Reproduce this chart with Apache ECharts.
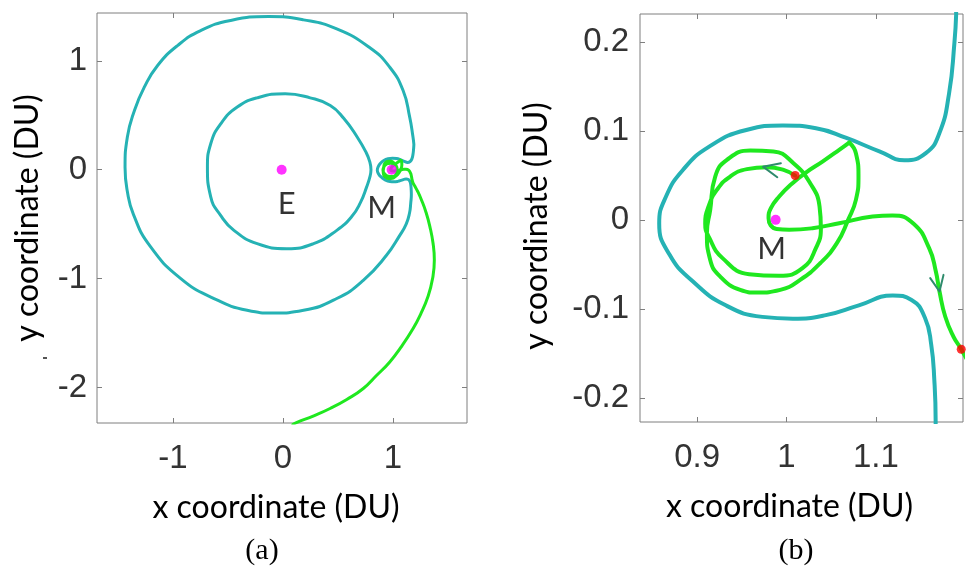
<!DOCTYPE html>
<html>
<head>
<meta charset="utf-8">
<script src="https://cdn.jsdelivr.net/npm/echarts@6/dist/echarts.min.js"></script>
<style>
  html, body { margin: 0; padding: 0; background: #ffffff; }
  #chart { width: 967px; height: 567px; }
</style>
</head>
<body>
<div id="chart"></div>
<script>
// ---- tick values ----
const xTicksA = [-1, 0, 1];
const yTicksA = [-2, -1, 0, 1];
const xTicksB = [0.9, 1, 1.1];
const yTicksB = [-0.2, -0.1, 0, 0.1, 0.2];

// ---- primaries (rotating frame, DU) ----
const bodyNames = ['E', 'M'];
const bodyX = [-0.01215, 0.98785];
const bodyY = [0, 0];

// ---- teal trajectory: arc wrapping the Moon (upper right -> over M -> lower right) ----
const tealMoonArc = [
  [1.190, 0.232], [1.188, 0.199], [1.182, 0.142], [1.171, 0.097], [1.156, 0.075],
  [1.132, 0.067], [1.104, 0.077], [1.067, 0.092], [1.033, 0.103], [0.996, 0.106],
  [0.955, 0.101], [0.913, 0.082], [0.884, 0.056], [0.865, 0.026], [0.8575, -0.004],
  [0.869, -0.039], [0.895, -0.069], [0.932, -0.096], [0.973, -0.109], [1.007, -0.111],
  [1.044, -0.107], [1.081, -0.096], [1.119, -0.085], [1.140, -0.090], [1.155, -0.110],
  [1.162, -0.140], [1.1655, -0.180], [1.167, -0.227]
];
// ---- teal trajectory: large arc around the Earth back to the Moon side ----
const tealEarthArc = [
  [1.167, -0.227], [1.162, -0.300], [1.150, -0.400], [1.120, -0.500], [1.062, -0.603],
  [0.941, -0.786], [0.730, -1.016], [0.489, -1.183], [0.187, -1.291], [-0.084, -1.316],
  [-0.326, -1.291], [-0.627, -1.183], [-0.929, -1.000], [-1.210, -0.700], [-1.360, -0.410],
  [-1.415, -0.200], [-1.436, 0.020], [-1.415, 0.300], [-1.352, 0.540], [-1.261, 0.758],
  [-1.140, 0.957], [-0.959, 1.140], [-0.748, 1.278], [-0.477, 1.370], [-0.130, 1.406],
  [0.187, 1.376], [0.489, 1.293], [0.790, 1.120], [0.971, 0.941], [1.092, 0.727],
  [1.152, 0.483], [1.182, 0.300], [1.190, 0.232]
];
// ---- teal trajectory: inner loop around the Earth ----
const tealInnerLoop = [
  [0.800, 0.000], [0.790, 0.070], [0.755, 0.160], [0.673, 0.303], [0.552, 0.472],
  [0.430, 0.590], [0.247, 0.660], [0.020, 0.697], [-0.235, 0.660], [-0.416, 0.575],
  [-0.567, 0.420], [-0.657, 0.238], [-0.687, 0.024], [-0.657, -0.250], [-0.567, -0.419],
  [-0.446, -0.557], [-0.235, -0.679], [0.036, -0.725], [0.278, -0.679], [0.489, -0.557],
  [0.625, -0.430], [0.705, -0.300], [0.760, -0.160], [0.792, -0.060], [0.800, 0.000]
];

// ---- green trajectory: loops around the Moon, up to the sharp turn ----
const greenLoops = [
  [1.0097, 0.0498], [0.9967, 0.0562], [0.978, 0.0592], [0.9557, 0.057], [0.937, 0.0487],
  [0.9221, 0.0337], [0.9127, 0.015], [0.909, -0.004],
  [0.9135, -0.020], [0.9284, -0.043], [0.9582, -0.061], [0.9918, -0.0629], [1.0179, -0.0543],
  [1.0329, -0.0318], [1.0385, -0.0094],
  [1.037, 0.015], [1.0265, 0.0412], [1.0078, 0.0637], [0.9854, 0.0768], [0.9594, 0.0779],
  [0.9333, 0.0674], [0.9202, 0.0487], [0.9146, 0.0112],
  [0.9109, -0.015], [0.9146, -0.045], [0.9258, -0.0637], [0.9482, -0.0787], [0.9669, -0.0817],
  [0.993, -0.0787], [1.0153, -0.0674], [1.0377, -0.0487], [1.0564, -0.0262], [1.069, 0.000],
  [1.0777, 0.0225], [1.0806, 0.0487], [1.0777, 0.0749], [1.0702, 0.0869]
];
// ---- green trajectory: dive past the Moon and departure to the right ----
const greenEscape = [
  [1.0702, 0.0869], [1.059, 0.0787], [1.0403, 0.0655], [1.0217, 0.0532], [1.0067, 0.0412],
  [0.9918, 0.0262], [0.9825, 0.0131], [0.9799, 0.0019], [0.9822, -0.006], [0.989, -0.0103],
  [1.003, -0.0112], [1.0291, -0.0094], [1.059, -0.0037], [1.0963, 0.0037], [1.1187, 0.005],
  [1.142, -0.004], [1.1597, -0.0318], [1.1672, -0.058], [1.1713, -0.0805], [1.1777, -0.1086],
  [1.1869, -0.1311], [1.1956, -0.1453]
];
// ---- green trajectory: outbound leg toward the lower edge ----
const greenOutbound = [
  [1.1956, -0.1453], [1.225, -0.200], [1.260, -0.280], [1.300, -0.390], [1.335, -0.520],
  [1.365, -0.680], [1.376, -0.830], [1.360, -1.000], [1.320, -1.160], [1.250, -1.330],
  [1.183, -1.459], [1.080, -1.620], [0.971, -1.765], [0.850, -1.890], [0.730, -2.009],
  [0.580, -2.110], [0.428, -2.193], [0.280, -2.260], [0.127, -2.321], [0.090, -2.340]
];

// ---- start / end markers and direction chevrons ----
const segmentEnds = [[1.0097, 0.0498], [1.1956, -0.1453]];
const chevronUpper = [[0.9937, 0.0636], [0.9737, 0.0598], [0.9897, 0.0479]];
const chevronRight = [[1.1609, -0.0655], [1.1713, -0.0805], [1.1758, -0.0618]];

// ---- styling ----
const TEAL = '#25b2b4';
const GREEN = '#1fe81f';
const ARROW = '#2e8b6c';
const AXIS_GREY = '#7f7f7f';
const TICK_FONT = { fontFamily: 'Liberation Sans', fontSize: 33, color: '#333333' };
const NAME_FONT = { fontFamily: 'Lato', fontSize: 32, color: '#000000' };

function tickStyle(ticks) {
  return { show: true, inside: true, length: 5, customValues: ticks, lineStyle: { color: AXIS_GREY, width: 1 } };
}

function xAxes(gi, min, max, ticks, gap, pad) {
  return [
    {
      type: 'value', gridIndex: gi, position: 'bottom', min: min, max: max,
      axisLine: { show: false, onZero: false }, splitLine: { show: false },
      axisTick: tickStyle(ticks),
      axisLabel: Object.assign({ show: true, customValues: ticks, margin: 19, formatter: v => String(v) }, TICK_FONT),
      name: 'x coordinate (DU)', nameLocation: 'middle', nameGap: gap,
      nameTextStyle: Object.assign({ padding: pad }, NAME_FONT)
    },
    {
      type: 'value', gridIndex: gi, position: 'top', min: min, max: max,
      axisLine: { show: false, onZero: false }, splitLine: { show: false },
      axisTick: tickStyle(ticks),
      axisLabel: { show: false }
    }
  ];
}
function yAxes(gi, min, max, ticks, gap, margin, pad) {
  return [
    {
      type: 'value', gridIndex: gi, position: 'left', min: min, max: max,
      axisLine: { show: false, onZero: false }, splitLine: { show: false },
      axisTick: tickStyle(ticks),
      axisLabel: Object.assign({ show: true, customValues: ticks, margin: margin, formatter: v => String(v) }, TICK_FONT),
      name: 'y coordinate (DU)', nameLocation: 'middle', nameGap: gap,
      nameTextStyle: Object.assign({ padding: pad }, NAME_FONT)
    },
    {
      type: 'value', gridIndex: gi, position: 'right', min: min, max: max,
      axisLine: { show: false, onZero: false }, splitLine: { show: false },
      axisTick: tickStyle(ticks),
      axisLabel: { show: false }
    }
  ];
}

function curve(data, xi, yi, color, width, smooth) {
  return {
    type: 'line', xAxisIndex: xi, yAxisIndex: yi, data: data,
    showSymbol: false, symbol: 'none', smooth: smooth, clip: true, silent: true,
    lineStyle: { color: color, width: width, cap: 'round', join: 'round' }
  };
}

const tealOuter = tealMoonArc.concat(tealEarthArc.slice(1));
const greenDeparture = greenEscape.concat(greenOutbound.slice(1));

const bodyLabelOffsetA = [[5, 34], [-10, 38]];
const bodiesA = bodyNames.map((n, i) => ({
  name: n, value: [bodyX[i], bodyY[i]],
  label: { offset: bodyLabelOffsetA[i] }
}));
const moonB = [{ name: bodyNames[1], value: [bodyX[1], bodyY[1]], label: { offset: [-4, 29] } }];

function bodySeries(data, xi, yi) {
  return {
    type: 'scatter', xAxisIndex: xi, yAxisIndex: yi, data: data, silent: true, z: 5,
    symbol: 'circle', symbolSize: 10, itemStyle: { color: '#ff00ff' },
    label: {
      show: true, position: 'inside', formatter: p => p.name,
      fontFamily: 'Lato', fontSize: 31, color: '#000000'
    }
  };
}

const option = {
  animation: false,
  backgroundColor: '#ffffff',
  grid: [
    { left: 97, top: 13, width: 370, height: 410, show: true, borderColor: AXIS_GREY, borderWidth: 1, outerBoundsMode: 'none' },
    { left: 640, top: 14, width: 323, height: 408, show: true, borderColor: AXIS_GREY, borderWidth: 1, outerBoundsMode: 'none' }
  ],
  xAxis: xAxes(0, -1.691, 1.673, xTicksA, 69, [0, 12, 0, 0])
    .concat(xAxes(1, 0.836, 1.1976, xTicksB, 69, [0, 24, 0, 0])),
  yAxis: yAxes(0, -2.326, 1.439, yTicksA, 53, 10, [0, 0, 0, 0])
    .concat(yAxes(1, -0.2271, 0.2313, yTicksB, 87, 11, [0, 16, 0, 0])),
  series: [
    // panel (a)
    curve(tealOuter, 0, 0, TEAL, 3, 0.5),
    curve(tealInnerLoop, 0, 0, TEAL, 3, 0.5),
    curve(greenLoops, 0, 0, GREEN, 3, 0.5),
    curve(greenDeparture, 0, 0, GREEN, 3, 0.5),
    bodySeries(bodiesA, 0, 0),
    // panel (b)
    curve(tealOuter, 2, 2, TEAL, 4, 0.5),
    curve(greenLoops, 2, 2, GREEN, 4, 0.5),
    curve(greenDeparture, 2, 2, GREEN, 4, 0.5),
    curve(chevronUpper, 2, 2, ARROW, 2, false),
    curve(chevronRight, 2, 2, ARROW, 2, false),
    {
      type: 'scatter', xAxisIndex: 2, yAxisIndex: 2, data: segmentEnds, silent: true, clip: false, z: 6,
      symbol: 'circle', symbolSize: 9, itemStyle: { color: '#ff0000' }
    },
    bodySeries(moonB, 2, 2)
  ],
  graphic: [
    { type: 'text', x: 262, y: 551, style: { text: '(a)', font: '30px "Liberation Serif"', fill: '#000', textAlign: 'center', textVerticalAlign: 'middle' } },
    { type: 'text', x: 796, y: 551, style: { text: '(b)', font: '30px "Liberation Serif"', fill: '#000', textAlign: 'center', textVerticalAlign: 'middle' } },
    { type: 'rect', shape: { x: 43, y: 357, width: 4, height: 2 }, style: { fill: '#555' } }
  ]
};

const chart = echarts.init(document.getElementById('chart'), null, { renderer: 'canvas' });
chart.setOption(option);
</script>
</body>
</html>
